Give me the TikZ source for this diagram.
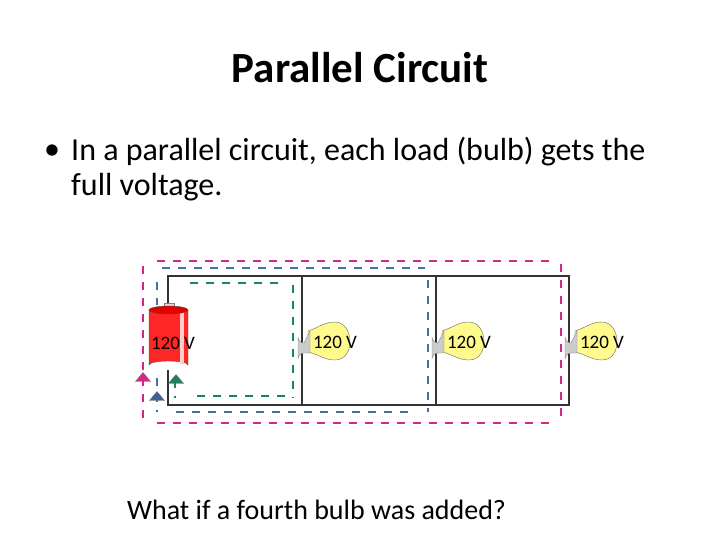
\documentclass[tikz,border=0pt]{standalone}
\usepackage{fontspec}
\setmainfont{Carlito}
\usetikzlibrary{shapes.geometric}
\definecolor{pk}{RGB}{214,40,130}
\definecolor{bl}{RGB}{70,110,170}
\definecolor{gr}{RGB}{30,130,90}
\definecolor{bulbY}{RGB}{255,250,140}
\tikzset{
 wire/.style={line width=1.5pt, draw=black!80},
 pkd/.style={pk, line width=1.6pt, dash pattern=on 8pt off 8pt},
 bld/.style={bl, line width=1.6pt, dash pattern=on 8pt off 8pt},
 grd/.style={gr, line width=1.6pt, dash pattern=on 8pt off 8pt},
 lbl/.style={font=\fontsize{19}{19}\selectfont, inner sep=0pt},
 tri/.style={isosceles triangle, shape border rotate=90, isosceles triangle apex angle=80, minimum width=15pt, minimum height=7pt, inner sep=0pt, draw=black!60}
}
\begin{document}
\begin{tikzpicture}[x=1pt,y=-1pt]
\useasboundingbox (0,0) rectangle (720,540);
\node (title) at (360,68) {\fontsize{43}{43}\selectfont\bfseries Parallel Circuit};
\node[anchor=west, inner sep=0pt] (b) at (44,152) {\fontsize{32}{32}\selectfont •};
\node[anchor=west, inner sep=0pt, align=left] (t1) at (71,152) {\fontsize{32}{32}\selectfont In a parallel circuit, each load (bulb) gets the};
\node[anchor=west, inner sep=0pt] (t2) at (71,187) {\fontsize{32}{32}\selectfont full voltage.};
\node[anchor=west, inner sep=0pt] (q) at (127,510) {\fontsize{28}{28}\selectfont What if a fourth bulb was added?};
% dashed loops
\draw[pkd] (157,261) -- (550,261);
\draw[pkd] (143,266) -- (143,420);
\draw[pkd] (561,264) -- (561,420);
\draw[pkd] (157,423) -- (550,423);
\draw[bld] (162,268) -- (425,268);
\draw[bld] (157,282) -- (157,412);
\draw[bld] (428,280) -- (428,412);
\draw[bld] (176,412) -- (415,412);
\draw[grd] (190,283) -- (285,283);
\draw[grd] (293,285) -- (293,398);
\draw[grd] (197,396) -- (285,396);
\draw[grd] (175,380) -- (175,398);
% circuit
\coordinate (tl) at (168,276); \coordinate (tr) at (569,276);
\coordinate (bL) at (168,405); \coordinate (br) at (569,405);
\coordinate (t2c) at (302,276); \coordinate (b2c) at (302,405);
\coordinate (t3c) at (436,276); \coordinate (b3c) at (436,405);
\draw[wire] (tl) -- (tr) -- (br) -- (bL) -- cycle;
\draw[wire] (t2c) -- (b2c);
\draw[wire] (t3c) -- (b3c);
% battery
\fill[white] (150,305) rectangle (188,370);
\draw[black!50, fill=gray!30] (164,303) rectangle (174,308);
\draw[black!70, fill=red!85!white] (149,310) -- (149,365) arc[start angle=180,end angle=360,x radius=19.5,y radius=4] -- (188,310);
\fill[white!80!red] (180,312) rectangle (184,364);
\draw[black!70, fill=red!90!black] (168.5,310) ellipse[x radius=19.5, y radius=4];
\node[lbl] (bat) at (173,343) {120 V};
% bulbs
\foreach \x/\n in {302/b1,436/b2,569/b3}{
  \draw[black!60, fill=bulbY] (\x+6,331) .. controls (\x+16,328) and (\x+22,322) .. (\x+33,322)
     .. controls (\x+52,322) and (\x+54,360) .. (\x+33,360)
     .. controls (\x+22,360) and (\x+16,354) .. (\x+6,352) -- cycle;
  \draw[black!50, fill=gray!40] (\x-4,337) arc[start angle=180,end angle=90,radius=6] -- (\x+8,331) -- (\x+8,353) -- (\x+2,353) arc[start angle=270,end angle=180,radius=6] -- cycle;
  \node[lbl] (\n) at (\x+33,342) {120 V};
}
% arrows
\node[tri, fill=pk] (ap) at (143,378) {};
\node[tri, fill=gr] (ag) at (176,380) {};
\node[tri, fill=bl!90!black] (ab) at (157,397) {};
\end{tikzpicture}
\end{document}
